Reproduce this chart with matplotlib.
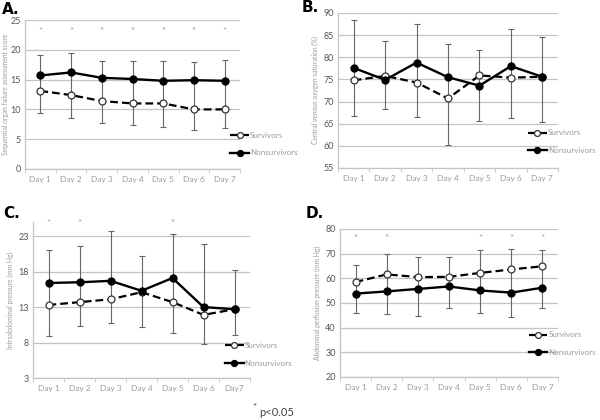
import numpy as np
import matplotlib
matplotlib.use("Agg")
import matplotlib.pyplot as plt
from matplotlib.ticker import FixedLocator, NullFormatter

plt.rcParams['font.family'] = ['Lato', 'DejaVu Sans']

days = ["Day 1", "Day 2", "Day 3", "Day 4", "Day 5", "Day 6", "Day 7"]
days_c = ["Day 1", "Day 2", "Day 3", "Day 4", "Day 5", "Day 6", "Day7"]

# A. SOFA score
sofa_surv = [13.1, 12.4, 11.4, 11.0, 11.0, 10.0, 10.0]
sofa_non = [15.7, 16.2, 15.3, 15.1, 14.8, 14.9, 14.8]
sofa_hi = [19.1, 19.5, 18.2, 18.2, 18.1, 18.0, 18.3]
sofa_lo = [9.4, 8.6, 7.8, 7.4, 7.1, 6.6, 6.8]
sofa_sig = [1, 2, 3, 4, 5, 6, 7]

# B. ScvO2
scvo2_surv = [74.8, 75.8, 74.3, 70.7, 75.9, 75.4, 75.6]
scvo2_non = [77.6, 74.9, 78.8, 75.5, 73.6, 78.0, 75.6]
scvo2_hi = [88.4, 83.6, 87.5, 83.1, 81.6, 86.3, 84.5]
scvo2_lo = [66.7, 68.3, 66.5, 60.2, 65.6, 66.3, 65.3]
scvo2_sig = []

# C. Intraabdominal pressure
iap_surv = [13.3, 13.7, 14.1, 15.1, 13.7, 11.9, 12.7]
iap_non = [16.4, 16.5, 16.7, 15.3, 17.1, 13.0, 12.7]
iap_hi = [21.0, 21.6, 23.8, 20.2, 23.3, 21.9, 18.2]
iap_lo = [8.9, 10.3, 10.8, 10.2, 9.4, 7.8, 9.0]
iap_sig = [1, 2, 5]

# D. Abdominal perfusion pressure
app_surv = [58.5, 61.6, 60.5, 60.6, 62.2, 63.6, 64.9]
app_non = [53.8, 54.7, 55.7, 56.7, 55.1, 54.2, 56.2]
app_hi = [65.5, 69.9, 68.7, 68.7, 71.4, 71.8, 71.4]
app_lo = [46.1, 45.7, 44.7, 48.1, 45.9, 44.2, 48.0]
app_sig = [1, 2, 5, 6, 7]

GRAY = '#9a9a9a'
GRID = '#c4c4c4'

fig = plt.figure(figsize=(6, 4.2), dpi=100)


def px_axes(x0, y0, x1, y1):
    # pixel box (top-left origin) -> figure axes
    return fig.add_axes([x0 / 600, 1 - y1 / 420, (x1 - x0) / 600, (y1 - y0) / 420])


def panel(ax, surv, non, hi, lo, sig, sig_y, ylim, yticks, ylabel, labels, leg_anchor, labelpad=3):
    x = np.arange(1, 8)
    ax.set_xlim(0.5, 7.5)
    ax.set_ylim(*ylim)
    ax.set_yticks(yticks)
    ax.yaxis.grid(True, color=GRID, lw=0.9)
    ax.set_axisbelow(True)
    for s in ['top', 'right']:
        ax.spines[s].set_visible(False)
    for s in ['left', 'bottom']:
        ax.spines[s].set_color(GRID)
        ax.spines[s].set_linewidth(0.9)
    ax.set_xticks(x)
    ax.set_xticklabels(labels)
    ax.xaxis.set_minor_locator(FixedLocator(np.arange(0.5, 8.0, 1.0)))
    ax.xaxis.set_minor_formatter(NullFormatter())
    ax.tick_params(axis='x', which='major', length=0, labelsize=6, colors=GRAY, pad=5)
    ax.tick_params(axis='x', which='minor', length=3, color=GRID)
    ax.tick_params(axis='y', length=0, labelsize=6.5, colors='#555555', pad=3)
    ax.set_ylabel(ylabel, fontsize=4.8, color=GRAY, labelpad=labelpad)

    # error bars spanning from lower to upper whisker
    mid = np.array(non)
    ax.errorbar(x, mid, yerr=[mid - np.array(lo), np.array(hi) - mid], fmt='none',
                ecolor='#666666', elinewidth=0.8, capsize=2, capthick=0.8, zorder=2)
    ax.plot(x, surv, ls=(0, (3.5, 1.8)), color='black', lw=1.6, marker='o', ms=5,
            mfc='white', mec='#333333', mew=0.9, label='Survivors', zorder=3)
    ax.plot(x, non, ls='-', color='black', lw=1.7, marker='o', ms=5,
            mfc='black', mec='black', label='Nonsurvivors', zorder=4)
    for d in sig:
        ax.text(d, sig_y, '*', ha='center', va='center', fontsize=7, color=GRAY)

    leg = ax.legend(loc='upper left', bbox_to_anchor=leg_anchor, frameon=False,
                    fontsize=5.8, handlelength=2.3, labelspacing=1.3, markerscale=0.85,
                    handletextpad=0.15, borderaxespad=0)
    for t in leg.get_texts():
        t.set_color(GRAY)
    return ax


axA = px_axes(25, 20, 240, 169)
panel(axA, sofa_surv, sofa_non, sofa_hi, sofa_lo, sofa_sig, 23.0, (0, 25),
      [0, 5, 10, 15, 20, 25], 'Sequential organ failure assessment score', days, (0.94, 0.27),
      labelpad=1)

axB = px_axes(338, 13, 558, 168)
panel(axB, scvo2_surv, scvo2_non, scvo2_hi, scvo2_lo, scvo2_sig, 0, (55, 90),
      [55, 60, 65, 70, 75, 80, 85, 90], 'Central venous oxygen saturation (%)', days, (0.85, 0.27))

axC = px_axes(33, 222, 250, 378)
panel(axC, iap_surv, iap_non, iap_hi, iap_lo, iap_sig, 24.8, (3, 25),
      [3, 8, 13, 18, 23], 'Intraabdominal pressure (mm Hg)', days_c, (0.87, 0.25))

axD = px_axes(340, 229, 558, 377)
panel(axD, app_surv, app_non, app_hi, app_lo, app_sig, 76.1, (20, 80),
      [20, 30, 40, 50, 60, 70, 80], 'Abdominal perfusion pressure (mm Hg)', days, (0.85, 0.33))

for lbl, (px, py) in zip(['A.', 'B.', 'C.', 'D.'], [(2, 9), (302, 8), (3, 214), (306, 214)]):
    fig.text(px / 600, 1 - py / 420, lbl, fontsize=11, fontweight='bold',
             family='DejaVu Sans', va='center', ha='left')

fig.text(254 / 600, 1 - 407 / 420, '*', fontsize=7, color='#444444', ha='center', va='center')
fig.text(259 / 600, 1 - 413 / 420, 'p<0.05', fontsize=8, color='#444444', ha='left', va='center')

fig.savefig('out.png', dpi=100)
